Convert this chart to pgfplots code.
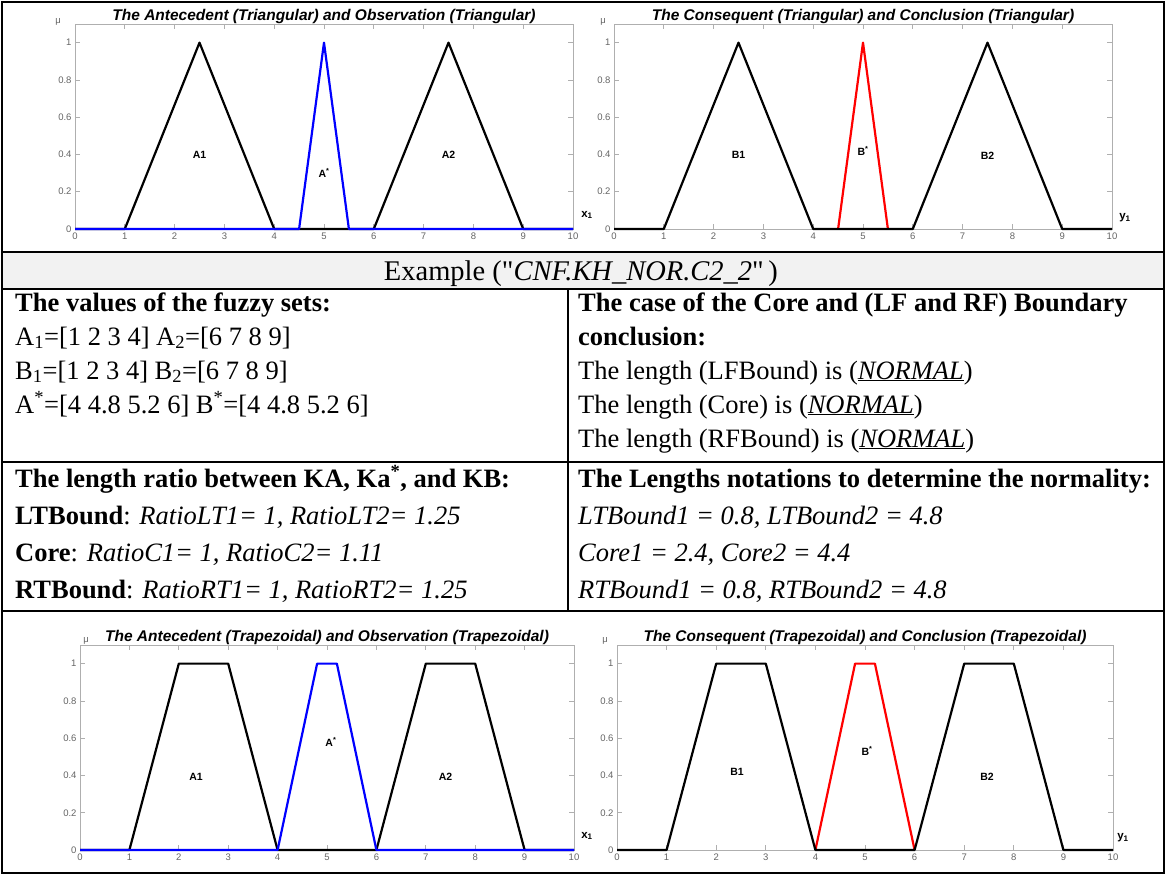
\documentclass[border=0pt]{standalone}
\usepackage{fontspec}
\setmainfont{Liberation Serif}
\newfontfamily\hv{Liberation Sans}
\usepackage{pgfplots}
\pgfplotsset{compat=1.18}

\definecolor{tickgray}{RGB}{100,100,100}
\definecolor{boxgray}{RGB}{175,175,175}
\definecolor{fillgray}{RGB}{242,242,242}

\pgfplotsset{
  mfplot/.style={
    scale only axis, anchor=south west,
    xmin=0, xmax=10, ymin=0, ymax=1.1,
    xtick={0,1,2,3,4,5,6,7,8,9,10}, ytick={0,0.2,0.4,0.6,0.8,1},
    tick align=inside, major tick length=5pt,
    axis line style={boxgray, line width=0.8pt},
    tick style={boxgray, line width=0.7pt},
    ticklabel style={font=\hv\fontsize{9.5}{10}\selectfont, text=tickgray},
    /pgf/number format/assume math mode=true,
    title style={font=\hv\bfseries\itshape\fontsize{15.5}{17}\selectfont,
      at={(0.5,1)}, anchor=base, yshift=-2pt},
    clip=false,
    every axis plot/.append style={line width=2.2pt, line join=round},
  },
}
\tikzset{
  setlbl/.style={font=\hv\bfseries\fontsize{10.5}{12}\selectfont},
  mulbl/.style={font=\hv\fontsize{9.5}{10}\selectfont, text=tickgray},
  varlbl/.style={font=\hv\bfseries\fontsize{11.5}{12}\selectfont},
  tx/.style={anchor=base west, inner sep=0pt, font=\fontsize{26.5}{30}\selectfont},
}

\begin{document}
\begin{tikzpicture}
\useasboundingbox (0pt,0pt) rectangle (1165pt,-875pt);

% ---- antecedent / observation, triangular
\begin{axis}[mfplot, at={(75pt,-229pt)}, width=498pt, height=205pt,
  title={The Antecedent (Triangular) and Observation (Triangular)}]
\addplot[black] coordinates {(0,0) (1,0) (2.5,1) (4,0) (6,0) (7.5,1) (9,0) (10,0)};
\addplot[blue] coordinates {(0,0) (4.5,0) (5,1) (5.5,0) (10,0)};
\node[setlbl] at (axis cs:2.5,0.4) {A1};
\node[setlbl] at (axis cs:5,0.3) {A\textsuperscript{*}};
\node[setlbl] at (axis cs:7.5,0.4) {A2};
\node[mulbl] at (rel axis cs:0,1) [xshift=-17pt, yshift=2pt] {μ};
\node[varlbl] at (rel axis cs:1,0) [xshift=14pt, yshift=14pt] {x\textsubscript{1}};
\end{axis}

% ---- consequent / conclusion, triangular
\begin{axis}[mfplot, at={(614pt,-229pt)}, width=498pt, height=205pt,
  title={The Consequent (Triangular) and Conclusion (Triangular)}]
\addplot[red] coordinates {(4.5,0) (5,1) (5.5,0)};
\addplot[black] coordinates {(0,0) (1,0) (2.5,1) (4,0) (6,0) (7.5,1) (9,0) (10,0)};
\node[setlbl] at (axis cs:2.5,0.4) {B1};
\node[setlbl] at (axis cs:5,0.42) {B\textsuperscript{*}};
\node[setlbl] at (axis cs:7.5,0.39) {B2};
\node[mulbl] at (rel axis cs:0,1) [xshift=-11pt, yshift=2pt] {μ};
\node[varlbl] at (rel axis cs:1,0) [xshift=13pt, yshift=11pt] {y\textsubscript{1}};
\end{axis}

% ---- antecedent / observation, trapezoidal
\begin{axis}[mfplot, at={(80pt,-850pt)}, width=494pt, height=205pt,
  title={The Antecedent (Trapezoidal) and Observation (Trapezoidal)}]
\addplot[black] coordinates {(0,0) (1,0) (2,1) (3,1) (4,0) (6,0) (7,1) (8,1) (9,0) (10,0)};
\addplot[blue] coordinates {(0,0) (4,0) (4.8,1) (5.2,1) (6,0) (10,0)};
\node[setlbl] at (axis cs:2.35,0.39) {A1};
\node[setlbl] at (axis cs:5.08,0.58) {A\textsuperscript{*}};
\node[setlbl] at (axis cs:7.4,0.39) {A2};
\node[mulbl] at (rel axis cs:0,1) [xshift=6pt, yshift=4pt] {μ};
\node[varlbl] at (rel axis cs:1,0) [xshift=13pt, yshift=14pt] {x\textsubscript{1}};
\end{axis}

% ---- consequent / conclusion, trapezoidal
\begin{axis}[mfplot, at={(617pt,-850pt)}, width=496pt, height=205pt,
  title={The Consequent (Trapezoidal) and Conclusion (Trapezoidal)}]
\addplot[red] coordinates {(4,0) (4.8,1) (5.2,1) (6,0)};
\addplot[black] coordinates {(0,0) (1,0) (2,1) (3,1) (4,0) (6,0) (7,1) (8,1) (9,0) (10,0)};
\node[setlbl] at (axis cs:2.42,0.42) {B1};
\node[setlbl] at (axis cs:5.04,0.53) {B\textsuperscript{*}};
\node[setlbl] at (axis cs:7.46,0.39) {B2};
\node[mulbl] at (rel axis cs:0,1) [xshift=-12pt, yshift=4pt] {μ};
\node[varlbl] at (rel axis cs:1,0) [xshift=10pt, yshift=12pt] {y\textsubscript{1}};
\end{axis}

% ---- table frame and text cells
\begin{scope}[x=1pt, y=-1pt]
\fill[fillgray] (3,253) rectangle (1163,288);
\draw[line width=2.5pt] (2,2) rectangle (1164,873);
\draw[line width=2.5pt] (2,252) -- (1164,252);
\draw[line width=2.5pt] (2,289) -- (1164,289);
\draw[line width=2.5pt] (2,462) -- (1164,462);
\draw[line width=2.5pt] (2,611) -- (1164,611);
\draw[line width=2.5pt] (568,289) -- (568,611);

\node[tx, anchor=base, font=\fontsize{28.5}{30}\selectfont] at (581,280)
  {Example (\textquotedbl\textit{CNF.KH\_NOR.C2\_2}\textquotedbl\,)};

\node[tx] at (15,311) {\textbf{The values of the fuzzy sets:}};
\node[tx] at (15,345) {A\textsubscript{1}=[1 2 3 4] A\textsubscript{2}=[6 7 8 9]};
\node[tx] at (15,379) {B\textsubscript{1}=[1 2 3 4] B\textsubscript{2}=[6 7 8 9]};
\node[tx] at (15,413) {A\textsuperscript{*}=[4 4.8 5.2 6] B\textsuperscript{*}=[4 4.8 5.2 6]};

\node[tx] at (578,311) {\textbf{The case of the Core and (LF and RF) Boundary}};
\node[tx] at (578,345) {\textbf{conclusion:}};
\node[tx] at (578,379) {The length (LFBound) is (\underline{\textit{NORMAL}})};
\node[tx] at (578,413) {The length (Core) is (\underline{\textit{NORMAL}})};
\node[tx] at (578,447) {The length (RFBound) is (\underline{\textit{NORMAL}})};

\node[tx] at (15,487) {\textbf{The length ratio between KA, Ka\textsuperscript{*}, and KB:}};
\node[tx] at (15,524) {\textbf{LTBound}: \textit{RatioLT1= 1, RatioLT2= 1.25}};
\node[tx] at (15,561) {\textbf{Core}: \textit{RatioC1= 1, RatioC2= 1.11}};
\node[tx] at (15,598) {\textbf{RTBound}: \textit{RatioRT1= 1, RatioRT2= 1.25}};

\node[tx] at (578,487) {\textbf{The Lengths notations to determine the normality:}};
\node[tx] at (578,524) {\textit{LTBound1 = 0.8, LTBound2 = 4.8}};
\node[tx] at (578,561) {\textit{Core1 = 2.4, Core2 = 4.4}};
\node[tx] at (578,598) {\textit{RTBound1 = 0.8, RTBound2 = 4.8}};
\end{scope}
\end{tikzpicture}
\end{document}
